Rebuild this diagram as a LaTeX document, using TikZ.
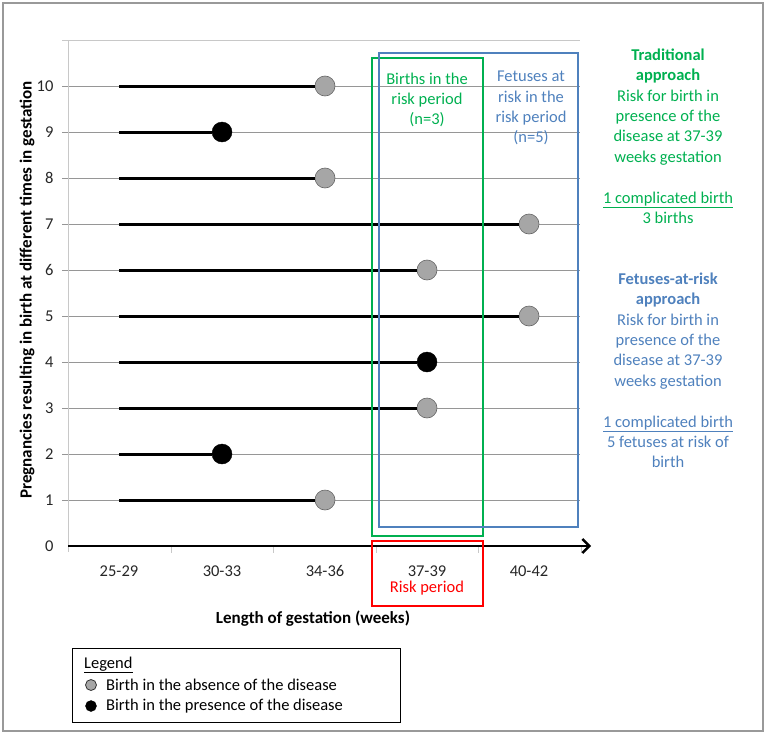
\documentclass[tikz,border=0pt]{standalone}
\usepackage{fontspec}
\setmainfont{Carlito}
\usetikzlibrary{arrows.meta}
\definecolor{xlgreen}{RGB}{0,176,80}
\definecolor{xlblue}{RGB}{79,129,189}
\definecolor{dotgray}{RGB}{166,166,166}
\definecolor{gridc}{RGB}{150,150,150}
\definecolor{gridl}{RGB}{200,200,200}
\begin{document}
\begin{tikzpicture}[x=1pt,y=-1pt,font=\fontsize{16.5}{20.3}\selectfont,
  gridline/.style={draw=gridc,line width=0.7pt},
  lightline/.style={draw=gridl,line width=1pt},
  dataline/.style={draw=black,line width=3pt},
  okdot/.style={circle,draw=black!60,line width=0.6pt,fill=dotgray,minimum size=20pt,inner sep=0pt},
  sickdot/.style={circle,draw=black,fill=black,minimum size=20pt,inner sep=0pt},
  frame/.style={line width=2.6pt},
  ttl/.style={font=\fontsize{17}{20}\selectfont\bfseries},
  txt/.style={align=center,inner sep=0pt}]
\useasboundingbox (0,0) rectangle (768,736);
\draw[draw=gray!80,line width=1.2pt] (3,3) rectangle (763,731);
% grid
\draw[lightline] (62,40) -- (580,40);
\foreach \v in {1,...,10}{
  \draw[gridline] (62,{546-46*\v}) -- (580,{546-46*\v});
  \node[anchor=east,text=black!85] (yl\v) at (57,{546-46*\v}) {\v};
}
\node[anchor=east,text=black!85] (yl0) at (57,546) {0};
\draw[lightline] (68,40) -- (68,552);
\foreach \x in {171,273,376,478,581}{\draw[lightline] (\x,546) -- (\x,553);}
% category labels
\foreach \x/\t in {119/25-29,222/30-33,325/34-36,427/37-39,529/40-42}{
  \node[text=black!85] (c\t) at (\x,571) {\t};
}
% axis titles
\node[ttl] (xt) at (313,619) {Length of gestation (weeks)};
\node[ttl,rotate=90] (yt) at (27,290) {Pregnancies resulting in birth at different times in gestation};
% data
\foreach \v/\x/\s in {10/325/okdot,9/222/sickdot,8/325/okdot,7/529/okdot,6/427/okdot,5/529/okdot,4/427/sickdot,3/427/okdot,2/222/sickdot,1/325/okdot}{
  \coordinate (s\v) at (119,{546-46*\v});
  \node[\s] (d\v) at (\x,{546-46*\v}) {};
  \draw[dataline] (s\v) -- (d\v);
}
% x axis
\coordinate (ax0) at (68,546);
\coordinate (ax1) at (591,546);
\draw[line width=2.4pt,-{Straight Barb[length=7pt,width=14pt,line width=2.4pt]}] (ax0) -- (ax1);
% boxes
\draw[frame,draw=xlgreen] (372,58) rectangle (483,536);
\draw[frame,draw=xlblue] (379,53) rectangle (578,527);
\draw[frame,draw=red] (372,541) rectangle (483,606);
\node[text=red] (rp) at (427,588) {Risk period};
\node[txt,text=xlgreen] (gb) at (427,100) {Births in the\\risk period\\(n=3)};
\node[txt,text=xlblue] (bb) at (531,108) {Fetuses at\\risk in the\\risk period\\(n=5)};
% right column
\node[txt,text=xlgreen] (trad) at (668,107) {\textbf{Traditional}\\\textbf{approach}\\Risk for birth in\\presence of the\\disease at 37-39\\weeks gestation};
\node[txt,text=xlgreen] (tradr) at (668,208) {\underline{1 complicated birth}\\3 births};
\node[txt,text=xlblue] (far) at (668,331) {\textbf{Fetuses-at-risk}\\\textbf{approach}\\Risk for birth in\\presence of the\\disease at 37-39\\weeks gestation};
\node[txt,text=xlblue] (farr) at (668,442) {\underline{1 complicated birth}\\5 fetuses at risk of\\birth};
% legend
\draw[line width=1pt] (72,648) rectangle (400,722);
\node[anchor=west,inner sep=0pt] (lg) at (84,665) {\underline{Legend}};
\node[okdot,minimum size=11pt,line width=0.8pt,draw=black!80] (l1) at (91,685) {};
\node[sickdot,minimum size=11pt] (l2) at (91,706) {};
\node[anchor=west,inner sep=0pt] (lt1) at (106,685) {Birth in the absence of the disease};
\node[anchor=west,inner sep=0pt] (lt2) at (106,706) {Birth in the presence of the disease};
\end{tikzpicture}
\end{document}
